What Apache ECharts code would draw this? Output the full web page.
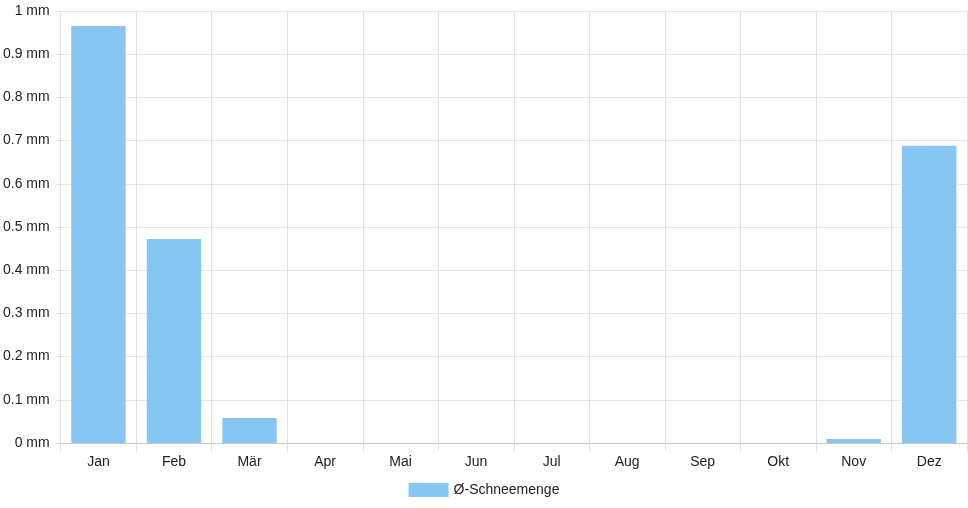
<!DOCTYPE html>
<html><head><meta charset="utf-8">
<script src="https://cdn.jsdelivr.net/npm/echarts@6/dist/echarts.min.js"></script>
<style>html,body{margin:0;padding:0;background:#fff}#c{width:968px;height:508px}</style>
</head><body><div id="c"></div>
<script>
const months = ['Jan','Feb','Mär','Apr','Mai','Jun','Jul','Aug','Sep','Okt','Nov','Dez'];
const snow = [0.965, 0.472, 0.058, 0, 0, 0, 0, 0, 0, 0, 0.009, 0.688];
const seriesName = 'Ø-Schneemenge';
const chart = echarts.init(document.getElementById('c'), null, {renderer:'canvas'});
const font = 'Liberation Sans, Arial, sans-serif';
chart.setOption({
  animation:false,
  textStyle:{fontFamily:font},
  grid:{left:60,right:1,top:11,bottom:65,containLabel:false},
  legend:{top:478,left:'center',itemWidth:40,itemHeight:14,itemGap:10,icon:'rect',
    textStyle:{fontFamily:font,fontSize:14,color:'#222'},data:[seriesName]},
  xAxis:{type:'category',data:months,
    axisLine:{show:true,lineStyle:{color:'#c8c8c8'}},
    axisTick:{show:true,length:8,lineStyle:{color:'#e0e0e0'}},
    splitLine:{show:true,lineStyle:{color:'#e0e0e0'}},
    axisLabel:{color:'#222',fontSize:14,fontFamily:font,margin:12}},
  yAxis:{type:'value',min:0,max:1,interval:0.1,
    axisLine:{show:true,lineStyle:{color:'#e0e0e0'}},
    axisTick:{show:true,length:5,lineStyle:{color:'#e0e0e0'}},
    splitLine:{show:true,lineStyle:{color:'#e6e6e6'}},
    axisLabel:{color:'#222',fontSize:14,fontFamily:font,margin:11,
      formatter:v=>(Math.round(v*10)/10)+' mm'}},
  series:[{name:seriesName,type:'bar',data:snow,barCategoryGap:'28%',
    itemStyle:{color:'#87c5f2',borderWidth:0}}]
});
</script></body></html>
